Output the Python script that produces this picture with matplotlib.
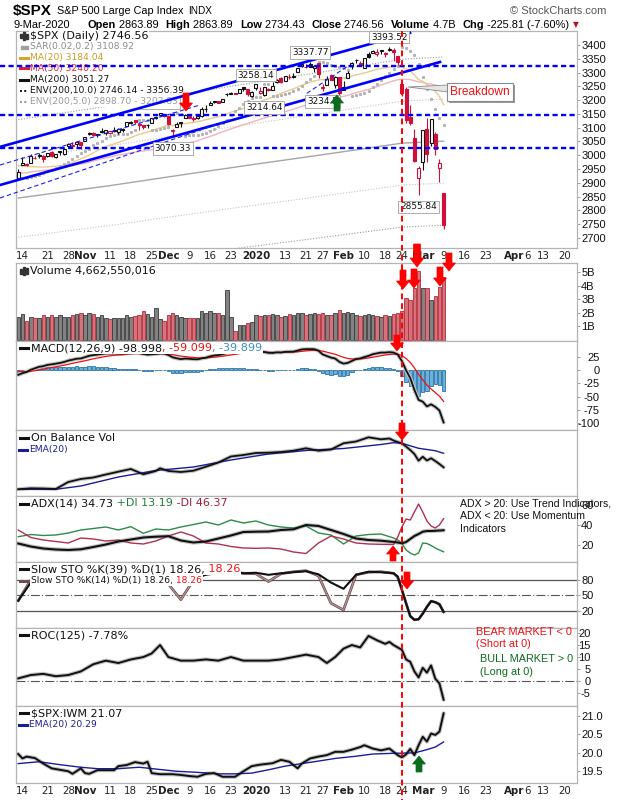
import numpy as np
import pandas as pd
import matplotlib
matplotlib.use("Agg")
import matplotlib.pyplot as plt
from matplotlib.patches import Polygon, Rectangle
from matplotlib.lines import Line2D

# ------------------------------------------------------------------ data
prior_closes = [2953.56, 2932.05, 2844.74, 2881.77, 2883.98, 2938.09, 2918.65, 2882.70, 2926.32, 2840.60,
                2847.60, 2888.68, 2923.65, 2900.51, 2924.43, 2922.95, 2847.11, 2878.38, 2869.16, 2887.94,
                2924.58, 2926.46, 2906.27, 2937.78, 2976.00, 2978.71, 2978.43, 2979.39, 3000.93, 3009.57,
                3007.39, 2997.96, 3005.70, 3006.73, 3006.79, 2992.07, 2991.78, 2966.60, 2984.87, 2977.62,
                2961.79, 2976.74, 2940.25, 2887.61, 2910.63, 2952.01, 2938.79, 2893.06, 2919.40]

opens = [2918.55, 2963.07, 2965.81, 2973.61, 2989.68, 3000.77, 2996.84, 2996.48, 3010.73, 2994.01, 3014.78, 3003.32, 3032.12, 3035.39, 3039.74, 3046.90,
         3050.72, 3078.96, 3080.80, 3075.10, 3087.02, 3081.25, 3080.33, 3089.28, 3084.18, 3090.75, 3107.92, 3117.91, 3127.45, 3114.66, 3108.49, 3111.41, 3117.44, 3134.85, 3145.49, 3147.18,
         3143.85, 3087.41, 3103.50, 3119.21, 3134.62, 3141.86, 3135.36, 3135.75, 3141.23, 3166.65, 3183.63, 3195.40, 3195.21, 3192.32, 3223.33, 3226.05, 3225.45, 3227.20, 3247.23, 3240.09, 3215.18,
         3244.67, 3226.36, 3217.55, 3241.86, 3238.59, 3266.03, 3281.81, 3271.13, 3285.35, 3282.27, 3302.97, 3323.66, 3321.03, 3330.02, 3315.77, 3333.10, 3247.16, 3255.35, 3289.46, 3256.45, 3282.33,
         3235.66, 3280.61, 3324.91, 3344.92, 3335.54, 3318.28, 3365.87, 3370.50, 3365.90, 3378.08, 3369.04, 3380.39, 3380.45, 3360.50, 3257.61, 3238.94, 3139.90, 3062.54, 2916.90,
         2974.28, 3096.46, 3045.75, 3075.70, 2954.20, 2863.89]
highs = [2948.46, 2993.28, 2972.84, 3003.28, 2997.54, 3008.29, 3000.00, 3007.33, 3014.57, 3004.78, 3016.07, 3027.39, 3044.08, 3047.87, 3050.10, 3046.90,
         3066.95, 3085.20, 3083.95, 3078.34, 3097.77, 3093.09, 3088.33, 3102.61, 3098.06, 3098.20, 3120.46, 3124.17, 3127.64, 3118.97, 3110.11, 3112.87, 3133.83, 3142.69, 3154.26, 3150.30,
         3144.31, 3094.97, 3119.38, 3119.45, 3150.60, 3148.87, 3142.12, 3143.98, 3176.28, 3182.68, 3197.71, 3198.22, 3198.48, 3205.48, 3225.65, 3227.78, 3226.43, 3240.08, 3247.93, 3240.92, 3231.72,
         3258.14, 3246.15, 3246.84, 3244.91, 3267.07, 3275.58, 3282.99, 3288.13, 3294.25, 3298.66, 3317.11, 3329.88, 3329.79, 3337.77, 3326.88, 3333.18, 3258.85, 3285.78, 3293.47, 3285.91, 3282.33,
         3268.44, 3306.92, 3337.58, 3347.96, 3341.42, 3352.26, 3375.63, 3381.47, 3385.09, 3380.69, 3375.01, 3393.52, 3389.15, 3360.76, 3259.81, 3246.99, 3182.51, 3097.07, 2959.72,
         3090.96, 3136.72, 3130.97, 3083.04, 2985.93, 2863.89]
lows = [2917.12, 2963.07, 2962.94, 2973.61, 2985.20, 2991.79, 2976.31, 2995.35, 2994.98, 2991.21, 2999.91, 3001.94, 3032.12, 3034.81, 3025.96, 3023.19,
        3050.72, 3074.87, 3072.15, 3065.89, 3080.23, 3073.58, 3075.82, 3084.73, 3078.80, 3083.26, 3104.60, 3112.06, 3113.47, 3091.41, 3094.55, 3099.26, 3117.44, 3131.00, 3143.41, 3139.34,
        3110.78, 3070.33, 3102.53, 3103.76, 3134.62, 3135.46, 3126.09, 3133.21, 3138.47, 3156.51, 3183.63, 3191.03, 3191.14, 3192.32, 3216.03, 3222.31, 3220.51, 3227.20, 3234.37, 3216.57, 3212.03,
        3235.53, 3222.34, 3214.64, 3232.43, 3236.67, 3263.67, 3260.86, 3268.43, 3277.19, 3280.69, 3302.97, 3318.86, 3316.61, 3320.04, 3301.87, 3281.53, 3234.50, 3253.22, 3271.89, 3242.80, 3214.68,
        3235.66, 3280.61, 3313.75, 3334.43, 3322.12, 3317.77, 3352.72, 3369.72, 3360.52, 3366.15, 3355.61, 3378.83, 3341.02, 3328.45, 3214.65, 3118.77, 3108.99, 2977.39, 2855.84,
        2945.19, 2976.63, 3034.38, 2999.83, 2901.54, 2734.43]
closes = [2938.13, 2970.27, 2966.15, 2995.68, 2989.69, 2997.95, 2986.20, 3006.72, 2995.99, 3004.52, 3010.29, 3022.55, 3039.42, 3036.89, 3046.77, 3037.56,
          3066.91, 3078.27, 3074.62, 3076.78, 3085.18, 3093.08, 3087.01, 3091.84, 3094.04, 3096.63, 3120.46, 3122.03, 3120.18, 3108.46, 3103.54, 3110.29, 3133.64, 3140.52, 3153.63, 3140.98,
          3113.87, 3093.20, 3112.76, 3117.43, 3145.91, 3135.96, 3132.52, 3141.63, 3168.57, 3168.80, 3191.45, 3192.52, 3191.14, 3205.37, 3221.22, 3224.01, 3223.38, 3239.91, 3240.02, 3221.29, 3230.78,
          3257.85, 3234.85, 3246.28, 3237.18, 3253.05, 3274.70, 3265.35, 3288.13, 3283.15, 3289.29, 3316.81, 3329.62, 3320.79, 3321.75, 3325.54, 3295.47, 3243.63, 3276.24, 3273.40, 3283.66, 3225.52,
          3248.92, 3297.59, 3334.69, 3345.78, 3327.71, 3352.09, 3357.75, 3379.45, 3373.94, 3380.16, 3370.29, 3386.15, 3373.23, 3337.75, 3225.89, 3128.21, 3116.39, 2978.76, 2954.22,
          3090.23, 3003.37, 3130.12, 3023.94, 2972.37, 2746.56]

volume_b = [1.7, 1.9, 1.4, 1.7, 1.6, 1.6, 1.8, 1.7, 1.8, 1.7,
            1.8, 1.7, 1.7, 1.8, 1.9, 2.0, 1.8, 2.0, 1.9, 1.7,
            1.8, 1.6, 1.5, 1.6, 1.6, 1.6, 1.8, 1.7, 1.75, 1.8,
            2.1, 1.9, 1.7, 2.35, 1.5, 1.4, 1.8, 2.0, 1.8, 1.7,
            1.6, 1.6, 1.6, 1.6, 2.1, 2.0, 2.1, 2.0, 2.0, 1.8,
            3.7, 1.7, 0.65, 1.05, 1.1, 1.2, 1.3, 1.85, 1.75, 1.8,
            1.85, 1.9, 1.8, 1.7, 1.75, 1.9, 1.8, 2.0, 2.0, 1.8,
            1.9, 1.95, 1.9, 2.0, 1.8, 1.85, 2.0, 2.2, 1.95, 2.05,
            2.0, 1.85, 1.75, 1.8, 1.9, 1.8, 1.75, 1.7, 1.8, 1.75,
            1.9, 1.95, 2.1, 3.1, 2.9, 3.85, 5.1, 3.85, 3.85, 2.95,
            3.2, 3.9, 4.66]

ma200_days = [-2, 20, 40, 55, 70, 80, 90, 100]
ma200_vals = [2845, 2890, 2935, 2968, 3000, 3022, 3044, 3051.27]

samp_days = [-2, 1, 4, 7, 10, 13, 16, 19, 22, 25, 28, 31, 34, 37, 40, 43, 46, 49, 52, 55, 58, 61, 64, 67, 70,
             73, 76, 79, 82, 85, 88, 89, 90, 91, 92, 93, 94, 95, 96, 97, 98, 99, 100]
adx_vals = [21.5, 18.5, 16.5, 15.5, 15, 15.7, 18, 20.5, 23.5, 25.5, 27.5, 28.3, 28.8, 24.5, 22.5, 23.5, 26.5, 29.5, 33, 33.3,
            33.5, 35, 35.7, 40, 39, 35, 31, 26.5, 25, 24.3, 23, 22.5, 21.7, 23, 26, 29, 31, 33.3, 34, 34, 34.2, 34.5, 34.73]
pdi_vals = [28.3, 30.5, 29.5, 30, 32, 35, 36.5, 38, 35, 38.3, 31.7, 36, 35, 38, 40.5, 43, 40, 45, 42, 44,
            40, 38, 37, 39, 32, 30, 21, 29, 30.5, 31, 27, 25, 21.7, 15, 12, 10, 12, 22, 21.5, 19.5, 17, 15, 13.19]
mdi_vals = [35, 27.5, 25, 23.5, 22, 27, 26, 24, 25, 22, 21, 24, 29, 33, 29, 22, 21, 18.5, 17, 16.7,
            17, 16, 13, 11.5, 22, 29, 26, 22, 21, 20.7, 20.5, 28, 38, 46, 45, 53, 61, 53, 44, 39, 37, 40, 46.37]
sto39_vals = [40, 75, 85, 90, 92, 90, 92, 93, 92, 94, 90, 92, 85, 80, 84, 90, 94, 96, 93, 94,
              90, 93, 95, 97, 91, 75, 63, 90, 96, 95, 93, 87, 61, 35, 10, 3, 4, 15, 28, 39, 37, 33, 18.26]
sto14_vals = [40, 80, 88, 90, 93, 92, 95, 92, 90, 95, 85, 92, 72, 42, 80, 92, 96, 97, 93, 92,
              77, 92, 96, 98, 88, 35, 22, 90, 95, 96, 93, 85, 61, 35, 10, 3, 4, 15, 28, 39, 37, 33, 18.26]

roc_days = [-2, 1, 4, 7, 10, 13, 16, 19, 22, 25, 28, 30, 32, 34, 37, 40, 43, 46, 49, 52, 55, 58, 61, 64, 67, 70, 72, 74,
            76, 78, 80, 82, 84, 86, 87, 88, 89, 90, 91, 92, 93, 94, 95, 96, 97, 98, 99, 100]
roc_vals = [1.1, 2.5, 3, 2, 2.5, 4, 7, 8.5, 7.5, 9, 10, 11.5, 15, 10, 8.5, 8.5, 9, 8.5, 10, 8.5, 8.5, 8.5, 9, 10, 11, 10, 7.5, 10,
            13.5, 15, 14, 18.8, 17, 15.5, 16.3, 15, 14, 13, 9, 8, 4, 1.5, 5.5, 3.5, 6.5, 1, -1, -7.78]

iwm_days = [-2, -1, 0, 2, 4, 6, 8, 10, 11, 13, 14, 15, 17, 21, 22, 24, 26, 28, 29, 30, 32, 35, 37, 39, 41, 43, 45, 47, 50, 52,
            54, 56, 59, 61, 63, 65, 66, 68, 70, 72, 74, 76, 78, 80, 81, 83, 85, 87, 89, 90, 91, 92, 93, 94, 95, 96, 97, 98, 99, 100]
iwm_vals = [19.96, 19.84, 19.89, 19.85, 19.7, 19.57, 19.53, 19.49, 19.42, 19.57, 19.44, 19.42, 19.52, 19.52, 19.63, 19.66, 19.74, 19.7, 19.75, 19.44,
            19.41, 19.41, 19.39, 19.36, 19.34, 19.42, 19.44, 19.34, 19.34, 19.49, 19.63, 19.67, 19.71, 19.8, 19.75, 19.57, 19.7, 19.84, 19.89, 19.93,
            20.02, 20.02, 20.08, 20.15, 20.2, 20.11, 20.06, 20.11, 19.93, 19.87, 19.95, 20.1, 19.93, 20.2, 20.43, 20.3, 20.52, 20.48, 20.57, 21.07]
iwm_ema_days = [-2, 3, 8, 13, 17, 22, 27, 31, 36, 41, 46, 50, 54, 58, 62, 66, 69, 74, 79, 83, 88, 93, 96, 98, 100]
iwm_ema_vals = [19.7, 19.75, 19.67, 19.6, 19.56, 19.56, 19.6, 19.55, 19.49, 19.46, 19.42, 19.42, 19.44, 19.53, 19.63, 19.7, 19.75,
                19.84, 19.9, 19.96, 19.98, 19.99, 20.08, 20.15, 20.29]

obv_days = [-2, 1, 4, 7, 10, 13, 16, 19, 22, 25, 28, 31, 32, 34, 37, 40, 43, 46, 49, 52, 55, 58, 61, 64, 67, 70, 73, 76, 79, 82,
            85, 87, 88, 89, 90, 91, 92, 93, 94, 95, 96, 97, 98, 99, 100]
obv_vals = [10.7, 11.7, 11.5, 11, 18, 21, 22.5, 25.5, 28.3, 31, 25.7, 29, 31.7, 29, 28, 29.3, 33.3, 37.5, 43.5, 45,
            47, 47.3, 48, 49.3, 51.7, 49.3, 50.5, 56.7, 58.5, 62.7, 60.7, 61.5, 59.5, 58, 56.7, 53.5, 50, 46, 39.3, 43.3,
            39.5, 41.7, 39, 36, 32.7]
obv_ema_days = [-2, 7, 13, 22, 31, 40, 49, 58, 67, 76, 85, 88, 90, 94, 98, 100]
obv_ema_vals = [10.7, 10.7, 14, 23, 29.5, 33, 40, 46, 49.5, 51.5, 55.5, 57.3, 56.7, 51.7, 49.3, 46.7]

tick_dates = ['2019-10-14', '2019-10-21', '2019-10-28', '2019-11-01', '2019-11-11', '2019-11-18', '2019-11-25',
              '2019-12-02', '2019-12-09', '2019-12-16', '2019-12-23', '2020-01-02', '2020-01-13', '2020-01-21',
              '2020-01-27', '2020-02-03', '2020-02-10', '2020-02-18', '2020-02-24', '2020-03-02', '2020-03-09',
              '2020-03-16', '2020-03-23', '2020-04-01', '2020-04-06', '2020-04-13', '2020-04-20']
tick_labels = ['14', '21', '28', 'Nov', '11', '18', '25', 'Dec', '9', '16', '23', '2020', '13', '21', '27', 'Feb',
               '10', '18', '24', 'Mar', '9', '16', '23', 'Apr', '6', '13', '20']
month_labels = ['Nov', 'Dec', '2020', 'Feb', 'Mar', 'Apr']

support_levels = [3325, 3147, 3027]
channel_lines = [((-6.38, 3030.4), (91.95, 3443.9)), ((-6.38, 2892.2), (99.13, 3338.3))]
thin_channel_lines = [((-6.38, 2964.7), (41.6, 3182.4)), ((-6.38, 2845.0), (48.8, 3128.0)),
                      ((67.2, 3224.8), (76.8, 3321.3))]

# ------------------------------------------------------------------ setup
W, H = 620, 800
fig = plt.figure(figsize=(W / 100, H / 100), dpi=100)
fig.patch.set_facecolor('white')
plt.rcParams['font.family'] = ['DejaVu Sans']
SANS = ['Liberation Sans', 'DejaVu Sans']
R = fig.canvas.get_renderer()
BIG, SMALL = 8.0, 6.6


def fx(v):
    return v / W


def fy(v):
    return 1 - v / H


holidays = pd.to_datetime(['2019-11-28', '2019-12-25', '2020-01-01', '2020-01-20', '2020-02-17', '2020-04-10'])
bd = pd.bdate_range('2019-10-10', '2020-04-24')
bd = bd[~bd.isin(holidays)]
pos = {d: i - 2 for i, d in enumerate(bd)}
N = len(closes)
xi = np.arange(N) - 2

LEFT, RIGHT = 16, 577
XMIN, XMAX = -2.542, 131.99


def xpx(idx):
    return LEFT + (idx - XMIN) / (XMAX - XMIN) * (RIGHT - LEFT)


def make_ax(top, bot, ylim):
    ax = fig.add_axes([fx(LEFT), fy(bot), (RIGHT - LEFT) / W, (bot - top) / H])
    ax.set_xlim(XMIN, XMAX)
    ax.set_ylim(*ylim)
    ax.set_xticks([])
    for s in ax.spines.values():
        s.set_color('#B4B4B4')
        s.set_linewidth(0.9)
    ax.yaxis.tick_right()
    ax.tick_params(axis='y', direction='out', length=2.2, width=0.7, color='#999999', pad=0.8,
                   labelsize=8, labelcolor='#111111')
    return ax


def set_ticks(ax, ticks, labels, ha='left', pad=0.8):
    ax.set_yticks(ticks)
    ax.set_yticklabels(labels)
    ax.tick_params(axis='y', pad=pad)
    for lab in ax.get_yticklabels():
        lab.set_fontfamily(SANS)
        lab.set_ha(ha)


def seq(ax, x, y, parts, size=SMALL, family=None, bg=True, zorder=5):
    for s, col in parts:
        kw = dict(color=col, fontsize=size, va='center', ha='left', zorder=zorder)
        if family:
            kw['fontfamily'] = family
        if bg:
            kw['bbox'] = dict(fc='white', ec='none', pad=0.4)
        t = ax.text(fx(x), fy(y), s, transform=fig.transFigure, **kw)
        x += t.get_window_extent(renderer=R).width
    return x


def leg_marker(ax, x, y, color, kind='line'):
    if kind == 'line':
        ax.add_line(Line2D([fx(x), fx(x + 8)], [fy(y), fy(y)], lw=2.2, color=color,
                           transform=fig.transFigure, zorder=6))
    elif kind == 'dots':
        ax.add_line(Line2D([fx(x), fx(x + 8)], [fy(y), fy(y)], lw=1.4, color=color, ls=(0, (1, 1.2)),
                           transform=fig.transFigure, zorder=6))
    elif kind == 'sar':
        for dx in (1, 5):
            ax.add_patch(Rectangle((fx(x + dx), fy(y + 1.5)), 2.5 / W, 2.5 / H, color=color,
                                   transform=fig.transFigure, zorder=6))
    elif kind in ('candle', 'vol'):
        hs = [(4, 6), (7, 3), (5, 5)] if kind == 'candle' else [(5, 3), (8, 3), (6, 3)]
        for k, (hh, ww) in enumerate(hs):
            ax.add_patch(Rectangle((fx(x + k * 3), fy(y + hh / 2)), 2 / W, hh / H, color='#333333',
                                   transform=fig.transFigure, zorder=6))


def halo_plot(ax, xs, ys, color, lw, halo=True):
    if halo:
        ax.plot(xs, ys, color='#C4C4C4', lw=lw + 1.6, solid_capstyle='round', zorder=2)
    ax.plot(xs, ys, color=color, lw=lw, zorder=3)


# ------------------------------------------------------------------ price panel
axp = make_ax(31, 248, (2663.7, 3450.8))
set_ticks(axp, np.arange(2700, 3401, 50), [str(v) for v in range(2700, 3401, 50)])

allc = pd.Series(prior_closes + closes)
ma20 = allc.rolling(20).mean().values[-N:]
ma50 = allc.rolling(50).mean().values[-N:]
ma200_d = np.array(ma200_days, dtype=float)
ma200_v = np.array(ma200_vals)

axp.plot(ma200_d, ma200_v * 1.10, color='#9A9A9A', lw=0.8, ls=(0, (1, 1.5)), zorder=2)
axp.plot(ma200_d, ma200_v * 0.90, color='#9A9A9A', lw=0.8, ls=(0, (1, 1.5)), zorder=2)
axp.plot(ma200_d, ma200_v * 1.05, color='#C4C4C4', lw=0.8, ls=(0, (1, 1.5)), zorder=2)
axp.plot(ma200_d, ma200_v * 0.95, color='#C4C4C4', lw=0.8, ls=(0, (1, 1.5)), zorder=2)
axp.plot(ma200_d, ma200_v, color='#A6A6A6', lw=1.0, zorder=2)
axp.plot(xi, ma50, color='#F0B4BC', lw=1.0, zorder=2)
axp.plot(xi, ma20, color='#E8CB8E', lw=1.0, zorder=2)

# parabolic SAR
h = np.array(highs); l = np.array(lows)
sar = np.zeros(N); up = True; af = 0.02; ep = h[0]; sar[0] = l[0]
for i in range(1, N):
    sar[i] = sar[i - 1] + af * (ep - sar[i - 1])
    if up:
        sar[i] = min(sar[i], l[i - 1], l[max(i - 2, 0)])
        if l[i] < sar[i]:
            up = False; sar[i] = ep; ep = l[i]; af = 0.02
        elif h[i] > ep:
            ep = h[i]; af = min(af + 0.02, 0.2)
    else:
        sar[i] = max(sar[i], h[i - 1], h[max(i - 2, 0)])
        if h[i] > sar[i]:
            up = True; sar[i] = ep; ep = h[i]; af = 0.02
        elif l[i] < ep:
            ep = l[i]; af = min(af + 0.02, 0.2)
axp.plot(xi, sar, ls='none', marker='s', ms=1.2, color='#B4B4B4', zorder=2)

o = np.array(opens); c = np.array(closes)
prevc = np.concatenate([[prior_closes[-1]], c[:-1]])
RED = '#D0103A'
col = np.where(c >= prevc, '#111111', RED)
face = np.where(c > o, 'white', col)
axp.vlines(xi, l, h, colors=col, lw=0.8, zorder=3)
axp.bar(xi, np.maximum(np.abs(c - o), 0.8), bottom=np.minimum(o, c), width=0.72, color=face,
        edgecolor=col, lw=0.8, zorder=4)

# annotations: support lines and channels
for lvl in support_levels:
    axp.plot([-6.38, XMAX], [lvl, lvl], color='#0000FF', lw=1.7, ls=(0, (2.2, 1.4)), clip_on=False, zorder=7)
for (p0, p1) in channel_lines:
    axp.plot([p0[0], p1[0]], [p0[1], p1[1]], color='#0000FF', lw=1.9, clip_on=False, zorder=7)
for (p0, p1) in thin_channel_lines:
    axp.plot([p0[0], p1[0]], [p0[1], p1[1]], color='#1E1EFF', lw=0.8, ls=(0, (4, 2.5)), clip_on=False, zorder=7)

# price labels
bx = dict(boxstyle='square,pad=0.2', fc='white', ec='#A0A0A0', lw=0.6)
label_specs = [(87, 'h', 7.0), (68, 'h', 7.0), (55, 'h', 6.5), (32, 'h', 7.0),
               (57, 'l', -8.4), (71, 'l', -8.0), (35, 'l', -9.0), (94, 'l', -8.6)]
for k, side, off in label_specs:
    v = highs[k + 2] if side == 'h' else lows[k + 2]
    txt = ('%.2f' % v).rstrip('0') if k == 71 else '%.2f' % v
    axp.annotate(txt, xy=(k, v), xytext=(0, off), textcoords='offset points', ha='center', va='center',
                 fontsize=6.4, bbox=bx, zorder=4 if k == 32 else 8, color='#111111')

# price legend
yrows = [36, 47, 57.5, 68, 79.5, 90.5, 101.5]
leg_marker(axp, 20, yrows[0], '#333', 'candle')
seq(axp, 30, yrows[0], [('$SPX (Daily) 2746.56', '#111111')], size=BIG)
leg_marker(axp, 20, yrows[1], '#A0A0A0', 'sar')
seq(axp, 30, yrows[1], [('SAR(0.02,0.2) 3108.92', '#8C8C8C')])
leg_marker(axp, 20, yrows[2], '#D8A431')
seq(axp, 30, yrows[2], [('MA(20) 3184.04', '#D09A22')])
leg_marker(axp, 20, yrows[3], '#E0203A')
seq(axp, 30, yrows[3], [('MA(50) 3240.20', '#E0203A')])
leg_marker(axp, 20, yrows[4], '#111111')
seq(axp, 30, yrows[4], [('MA(200) 3051.27', '#111111')])
leg_marker(axp, 20, yrows[5], '#111111', 'dots')
seq(axp, 30, yrows[5], [('ENV(200,10.0) 2746.14 - 3356.39', '#111111')])
leg_marker(axp, 20, yrows[6], '#999999', 'dots')
seq(axp, 30, yrows[6], [('ENV(200,5.0) 2898.70 - 3203.83', '#9A9A9A')])

# ------------------------------------------------------------------ volume
axv = make_ax(263, 341, (-0.11, 5.67))
set_ticks(axv, [1, 2, 3, 4, 5], ['1B', '2B', '3B', '4B', '5B'])
vface = np.where(c >= prevc, '#828282', '#D5727C')
vedge = np.where(c >= prevc, '#3A3A3A', '#B42A3A')
axv.bar(xi, volume_b, width=0.84, color=vface, edgecolor=vedge, lw=0.6, zorder=2)
leg_marker(axv, 20, 271, '#333', 'vol')
seq(axv, 30, 271, [('Volume 4,662,550,016', '#111111')], size=BIG)

# ------------------------------------------------------------------ MACD
axm = make_ax(341, 430, (-113.3, 55.3))
set_ticks(axm, [25, 0, -25, -50, -75, -100], ['25', '0', '-25', '-50', '-75', '-100'], ha='right', pad=14.0)
ema12 = allc.ewm(span=12, adjust=False).mean()
ema26 = allc.ewm(span=26, adjust=False).mean()
macd = ema12 - ema26
sig = macd.ewm(span=9, adjust=False).mean()
macd_v = macd.values[-N:]; sig_v = sig.values[-N:]
axm.bar(xi, macd_v - sig_v, width=0.82, color='#6DB1DA', edgecolor='#2B74A6', lw=0.6, zorder=2)
axm.plot(xi, sig_v, color='#F01010', lw=0.9, zorder=3)
halo_plot(axm, xi, macd_v, '#111111', 1.3)
leg_marker(axm, 20, 348, '#111111')
seq(axm, 31, 348, [('MACD(12,26,9) -98.998', '#111111'), (', -59.099', '#F01010'), (', -39.899', '#3A8FC8')], size=BIG)

# ------------------------------------------------------------------ OBV
axo = make_ax(430, 496, (4, 70))
axo.set_yticks([])
axo.plot(obv_ema_days, obv_ema_vals, color='#1C1C96', lw=1.0, zorder=3)
halo_plot(axo, obv_days, obv_vals, '#111111', 1.3)
leg_marker(axo, 20, 438, '#111111')
seq(axo, 31, 438, [('On Balance Vol', '#111111')], size=BIG)
leg_marker(axo, 19, 449.5, '#1C1C96')
seq(axo, 29, 449.5, [('EMA(20)', '#1C1C96')], bg=False)

# ------------------------------------------------------------------ ADX
axa = make_ax(496, 562, (3, 69))
set_ticks(axa, [20, 40, 60], ['20', '40', '60'])
axa.plot(samp_days, pdi_vals, color='#2E8B4A', lw=1.0, zorder=3)
axa.plot(samp_days, mdi_vals, color='#B03050', lw=1.0, zorder=3)
halo_plot(axa, samp_days, adx_vals, '#111111', 1.5)
leg_marker(axa, 20, 503.5, '#111111')
seq(axa, 31, 503.5, [('ADX(14) 34.73', '#111111'), (' +DI 13.19', '#1F7F3F'), (' -DI 46.37', '#A0203A')], size=BIG)
for yy, s in [(503, 'ADX > 20: Use Trend Indicators,'), (516, 'ADX < 20: Use Momentum'), (529, 'Indicators')]:
    fig.text(fx(460), fy(yy), s, fontsize=7.6, fontfamily=SANS, color='#111111', va='center', ha='left', zorder=8)

# ------------------------------------------------------------------ Slow STO
axs = make_ax(562, 628, (-12.9, 114.8))
set_ticks(axs, [20, 50, 80], ['20', '50', '80'])
axs.axhline(80, color='#555555', lw=0.9, zorder=1)
axs.axhline(20, color='#555555', lw=0.9, zorder=1)
axs.axhline(50, color='#555555', lw=0.8, ls=(0, (8, 2, 1, 2)), zorder=1)
axs.plot(samp_days, sto14_vals, color='#5A4040', lw=1.9, zorder=2)
axs.plot(samp_days, sto14_vals, color='#B89090', lw=1.0, zorder=2)
halo_plot(axs, samp_days, sto39_vals, '#111111', 1.5, halo=False)
leg_marker(axs, 20, 569, '#111111')
seq(axs, 31, 569, [('Slow STO %K(39) %D(1) 18.26,', '#111111'), (' 18.26', '#F01010')], size=BIG)
leg_marker(axs, 20, 580.5, '#6A5050')
seq(axs, 31, 580.5, [('Slow STO %K(14) %D(1) 18.26,', '#111111'), (' 18.26', '#F01010')])

# ------------------------------------------------------------------ ROC
axr = make_ax(628, 706, (-10.4, 22.1))
set_ticks(axr, [-5, 0, 5, 10, 15, 20], ['-5', '0', '5', '10', '15', '20'], ha='right', pad=7.4)
axr.axhline(0, color='#555555', lw=0.8, ls=(0, (8, 2, 1, 2)), zorder=1)
halo_plot(axr, roc_days, roc_vals, '#111111', 1.4)
leg_marker(axr, 20, 635, '#111111')
seq(axr, 31, 635, [('ROC(125) -7.78%', '#111111')], size=BIG)
for yy, s, cc in [(632, 'BEAR MARKET < 0', '#F01010'), (644, '(Short at 0)', '#F01010'),
                  (659, 'BULL MARKET > 0', '#0B6B1E'), (672, '(Long at 0)', '#0B6B1E')]:
    xx = 476 if cc == '#F01010' else 480
    fig.text(fx(xx), fy(yy), s, fontsize=7.8, fontfamily=SANS, color=cc, va='center', ha='left', zorder=8)

# ------------------------------------------------------------------ SPX:IWM
axi = make_ax(706, 783, (19.17, 21.27))
set_ticks(axi, [19.5, 20.0, 20.5, 21.0], ['19.5', '20.0', '20.5', '21.0'])
axi.plot(iwm_ema_days, iwm_ema_vals, color='#1C1C9C', lw=1.0, zorder=3)
halo_plot(axi, iwm_days, iwm_vals, '#111111', 1.4)
leg_marker(axi, 20, 713, '#111111')
seq(axi, 31, 713, [('$SPX:IWM 21.07', '#111111')], size=BIG)
leg_marker(axi, 19, 724.5, '#1C1C96')
seq(axi, 29, 724.5, [('EMA(20) 20.29', '#1C1C96')], bg=False)

# ------------------------------------------------------------------ date labels
for d, lab in zip(tick_dates, tick_labels):
    px = xpx(pos[pd.Timestamp(d)])
    if lab == '14':
        px -= 4
    wt = 'bold' if lab in month_labels else 'normal'
    for yy in (256, 791):
        fig.text(fx(px), fy(yy), lab, fontsize=7.4, fontweight=wt, color='#222222', ha='center', va='center')

# ------------------------------------------------------------------ header
hx = 13
t = fig.text(fx(hx), fy(11), '$SPX', fontsize=11, fontweight='bold', fontfamily=SANS, va='center', ha='left')
hx += t.get_window_extent(renderer=R).width + 5
t = fig.text(fx(hx), fy(11.5), 'S&P 500 Large Cap Index', fontsize=7.8, fontfamily=SANS, va='center', ha='left')
hx += t.get_window_extent(renderer=R).width + 5
fig.text(fx(hx), fy(11.5), 'INDX', fontsize=7.2, fontfamily=SANS, va='center', ha='left')
fig.text(fx(606), fy(11.5), '\u00a9 StockCharts.com', fontsize=8, fontfamily=SANS, color='#555555', va='center', ha='right')

line2 = [('9-Mar-2020', 'normal', 0), ('Open', 'bold', 17), (' 2863.89', 'normal', 0), ('High', 'bold', 7),
         (' 2863.89', 'normal', 0), ('Low', 'bold', 7), (' 2734.43', 'normal', 0), ('Close', 'bold', 7),
         (' 2746.56', 'normal', 0), ('Volume', 'bold', 7), (' 4.7B', 'normal', 0), ('Chg', 'bold', 7),
         (' -225.81 (-7.60%)', 'normal', 0)]
hx = 14
for s, wt, gap in line2:
    hx += gap
    t = fig.text(fx(hx), fy(24.5), s, fontsize=7.9, fontweight=wt, fontfamily=SANS, va='center', ha='left')
    hx += t.get_window_extent(renderer=R).width
fig.text(fx(hx + 4), fy(25), '\u25bc', fontsize=5.5, color='#C0102A', va='center', ha='left')

# ------------------------------------------------------------------ overlays (figure level)
fig.add_artist(Line2D([fx(xpx(90))] * 2, [fy(31), fy(800)], color='#FF0000', lw=1.4, ls=(0, (3, 2)),
                      transform=fig.transFigure, zorder=15))


def block_arrow(xc, y0, y1, color, shaft=6, head=13, headlen=8):
    d = 1 if y1 > y0 else -1
    yb = y1 - d * headlen
    pts = [(xc - shaft / 2, y0), (xc + shaft / 2, y0), (xc + shaft / 2, yb), (xc + head / 2, yb),
           (xc, y1), (xc - head / 2, yb), (xc - shaft / 2, yb)]
    fig.add_artist(Polygon([(fx(a), fy(b)) for a, b in pts], closed=True, transform=fig.transFigure,
                           facecolor=color, edgecolor=color, lw=0.5, zorder=20))


RA = '#FF0000'
GA = '#0B6B1E'
block_arrow(186, 93, 111, RA)
block_arrow(337, 111, 95, GA)
block_arrow(417, 244, 267, RA, shaft=7, head=14, headlen=9)
block_arrow(449, 253, 271, RA)
block_arrow(403, 270, 289, RA)
block_arrow(414, 269, 288, RA)
block_arrow(440, 267, 286, RA)
block_arrow(397, 335, 351, RA)
block_arrow(402, 423, 440, RA)
block_arrow(393, 561, 546, RA)
block_arrow(407, 572, 589, RA)
block_arrow(419, 772, 756, GA)

# Breakdown callout
fig.add_artist(Polygon([(fx(408), fy(87)), (fx(448), fy(85)), (fx(448), fy(92))], closed=True,
                       transform=fig.transFigure, facecolor='#E6E6E6', edgecolor='#8A8A8A', lw=0.6, zorder=16))
fig.add_artist(Rectangle((fx(449), fy(103)), 66 / W, 18 / H, transform=fig.transFigure,
                         facecolor='#9A9A9A', edgecolor='none', zorder=16))
fig.add_artist(Rectangle((fx(447), fy(101)), 66 / W, 18 / H, transform=fig.transFigure,
                         facecolor='white', edgecolor='#8A8A8A', lw=0.8, zorder=17))
fig.text(fx(480), fy(92), 'Breakdown', fontsize=8.6, fontfamily=SANS, color='#F01010', ha='center', va='center', zorder=18)

fig.savefig('out.png', dpi=100, facecolor='white')
